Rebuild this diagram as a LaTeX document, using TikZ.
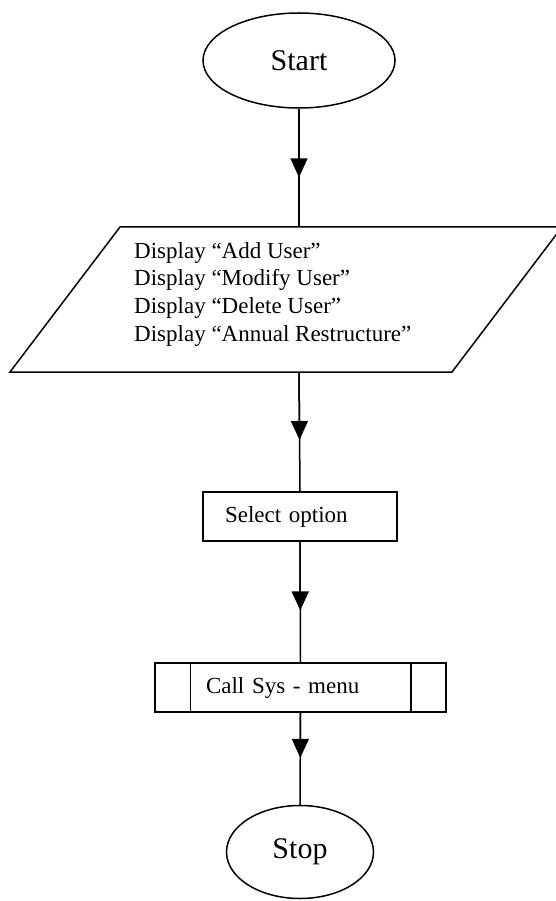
\documentclass[tikz,border=0pt]{standalone}
\usepackage{fontspec}
\setmainfont{Liberation Serif}
\usetikzlibrary{arrows.meta,calc,shapes.geometric}

\begin{document}
\begin{tikzpicture}[x=1pt,y=-1pt,
  every node/.style={inner sep=0pt},
  flowline/.style={line width=1.5pt},
  tipline/.style={line width=1.5pt,-{Triangle[width=17pt,length=19pt]}},
  terminal/.style={ellipse,draw,line width=1.5pt,font=\fontsize{30}{35}\selectfont},
  procbox/.style={rectangle,draw,line width=1.5pt,font=\fontsize{23}{27}\selectfont,align=left},
  bodytext/.style={font=\fontsize{23}{27.7}\selectfont,align=left}]

\useasboundingbox (0,0) rectangle (556,901);

% terminals
\node[terminal,minimum width=192pt,minimum height=95pt] (start) at (299,60.5) {Start};
\node[terminal,minimum width=147pt,minimum height=93pt] (stop) at (300,852) {Stop};

% input/output parallelogram with its text
\coordinate (pTop) at (299,227);
\coordinate (pBot) at (299,372);
\draw[flowline,line join=miter] (10,372) -- (120,227) -- (562,227) -- (452,372) -- cycle;
\node[bodytext,anchor=north west] (menu) at (134,242)
  {Display “Add User”\\Display “Modify User”\\Display “Delete User”\\Display “Annual Restructure”};

% process boxes
\node[procbox,minimum height=49pt,inner xsep=22pt,text width=150pt] (select) at (300,516.5) {Select option};
\node[procbox,minimum height=49pt,inner xsep=51pt,text width=189pt] (call) at (300.5,687.5) {Call Sys - menu};
\draw[flowline] ([xshift=36pt]call.north west) -- ([xshift=36pt]call.south west);
\draw[flowline] ([xshift=-36pt]call.north east) -- ([xshift=-36pt]call.south east);

% connectors with arrowheads part way along
\draw[flowline] (start.south) -- (pTop);
\draw[tipline] (start.south) -- ($(start.south)!0.58!(pTop)$);
\draw[flowline] (pBot) -- (select.north);
\draw[tipline] (pBot) -- ($(pBot)!0.57!(select.north)$);
\draw[flowline] (select.south) -- (call.north);
\draw[tipline] (select.south) -- ($(select.south)!0.57!(call.north)$);
\draw[flowline] (call.south) -- (stop.north);
\draw[tipline] (call.south) -- ($(call.south)!0.49!(stop.north)$);
\end{tikzpicture}
\end{document}
